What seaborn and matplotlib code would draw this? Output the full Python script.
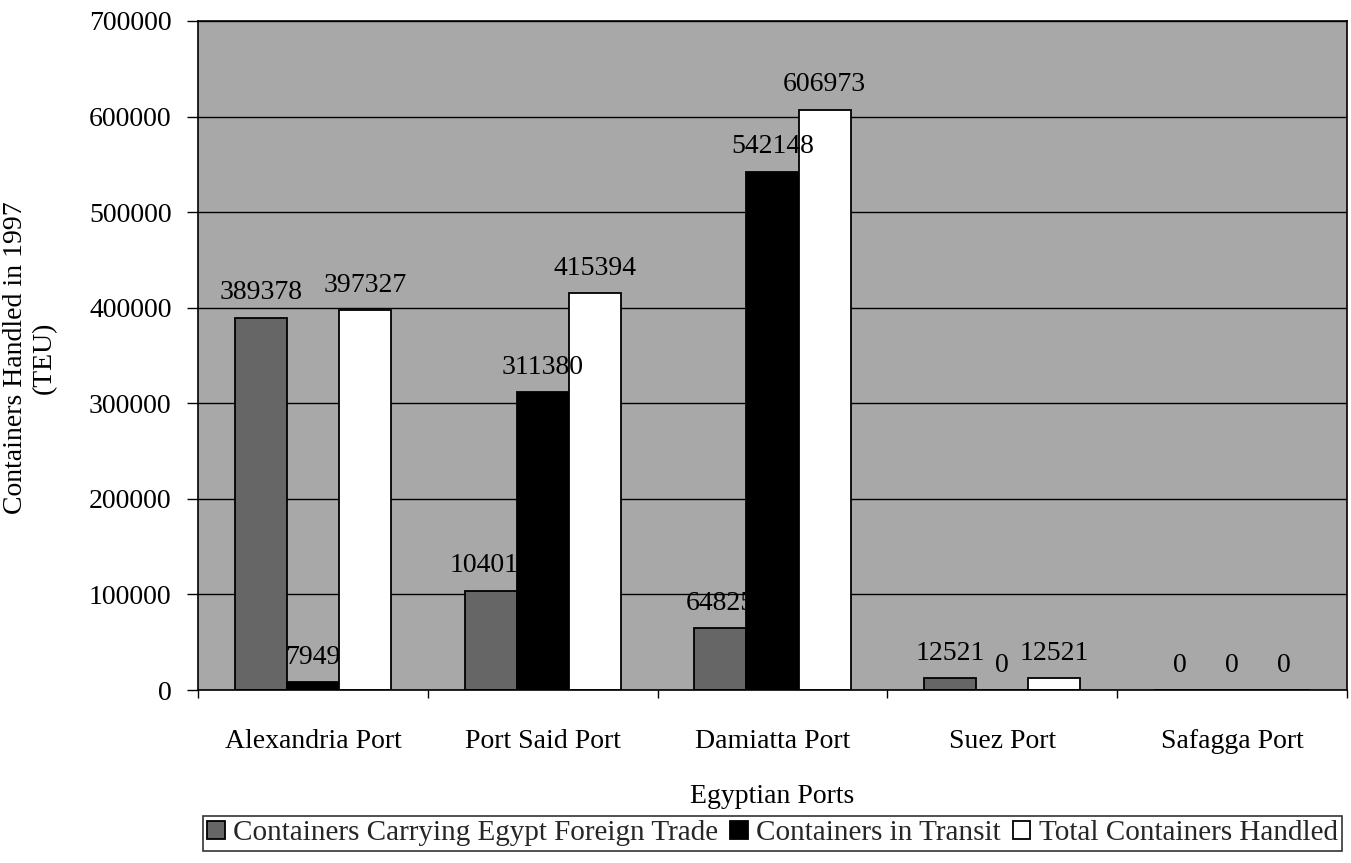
import matplotlib
matplotlib.use("Agg")
import matplotlib.pyplot as plt
import seaborn as sns
import pandas as pd
from matplotlib.ticker import MultipleLocator, FixedLocator

# Container traffic through Egyptian ports, 1997 (TEU)
ports = ["Alexandria Port", "Port Said Port", "Damiatta Port", "Suez Port", "Safagga Port"]
series = ["Containers Carrying Egypt Foreign Trade", "Containers in Transit", "Total Containers Handled"]
foreign_trade = [389378, 104014, 64825, 12521, 0]
transit = [7949, 311380, 542148, 0, 0]
total = [397327, 415394, 606973, 12521, 0]

values = {series[0]: foreign_trade, series[1]: transit, series[2]: total}
rows = []
for s in series:
    for p, v in zip(ports, values[s]):
        rows.append({"Port": p, "Series": s, "TEU": v})
df = pd.DataFrame(rows)

sns.set_theme(style="white")
plt.rcParams["font.family"] = ["Liberation Serif", "DejaVu Serif"]

fig = plt.figure(figsize=(13.51, 8.63), dpi=100)
ax = fig.add_axes([198 / 1351, 1 - 690 / 863, (1347 - 198) / 1351, (690 - 21) / 863])
ax.set_facecolor("#a8a8a8")

palette = {series[0]: "#666666", series[1]: "#000000", series[2]: "#ffffff"}
sns.barplot(data=df, x="Port", y="TEU", hue="Series", order=ports, hue_order=series,
            palette=palette, width=0.68, edgecolor="black", linewidth=1.3,
            saturation=1, ax=ax, zorder=2, legend=True)

# value labels above each bar (black text disappears where it crosses a black bar)
for cont, s in zip(ax.containers, series):
    ax.bar_label(cont, labels=[str(v) for v in values[s]], padding=9,
                 fontsize=20, color="black", zorder=3)

ax.set_ylim(0, 700000)
ax.set_xlim(-0.5, len(ports) - 0.5)
ax.yaxis.set_major_locator(MultipleLocator(100000))
ax.grid(axis="y", color="black", linewidth=1.0)
ax.set_axisbelow(True)
for sp in ax.spines.values():
    sp.set_color("black")
    sp.set_linewidth(1.2)

ax.tick_params(axis="y", direction="out", length=8, width=1, pad=11, labelsize=20, left=True, colors="black")
ax.tick_params(axis="x", which="major", length=0, pad=28, labelsize=20, colors="black")
ax.xaxis.set_minor_locator(FixedLocator([i - 0.5 for i in range(len(ports) + 1)]))
ax.tick_params(axis="x", which="minor", direction="out", length=6, width=1, bottom=True, colors="black")

ax.set_xlabel("Egyptian Ports", fontsize=20, labelpad=22, color="black")
ax.set_ylabel("")
fig.text(0.022, 0.585, "Containers Handled in 1997\n(TEU)", rotation=90, ha="center", va="center",
         multialignment="center", fontsize=20, color="black")

handles, labels = ax.get_legend_handles_labels()
leg = ax.legend(handles, labels, loc="center", bbox_to_anchor=(0.5, -0.214), ncol=3,
                fontsize=21, frameon=True, fancybox=False, edgecolor="black",
                handlelength=0.6, handleheight=0.6, handletextpad=0.3, columnspacing=0.4,
                borderpad=0.15, borderaxespad=0)
leg.get_frame().set_linewidth(1.2)

fig.savefig("out.png", dpi=100, facecolor="white")
